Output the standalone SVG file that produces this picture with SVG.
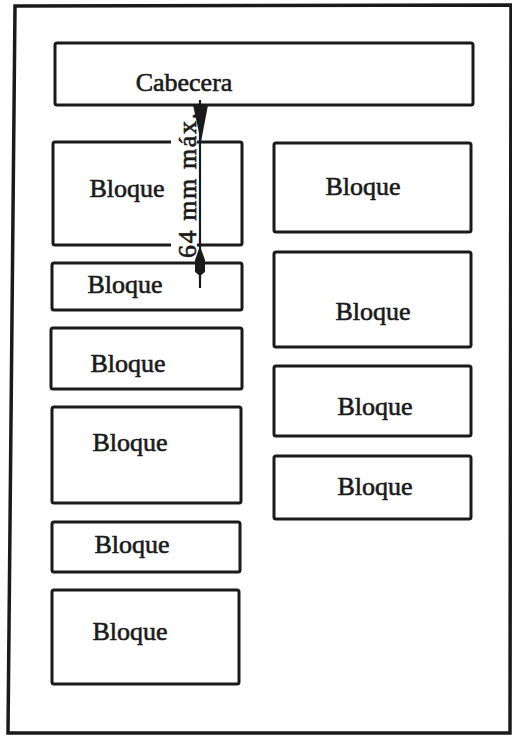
<svg xmlns="http://www.w3.org/2000/svg" width="512" height="736" viewBox="0 0 512 736">
<style>
.box{fill:#fff;stroke:#1a1a1a;stroke-width:3;stroke-linejoin:round}
.lbl{font-family:"Liberation Serif","Times New Roman",serif;font-size:26px;fill:#1a1a1a;stroke:#1a1a1a;stroke-width:0.6;text-anchor:middle}
</style>
<rect width="512" height="736" fill="#fff"/>
<path id="frame" d="M15,6 L511,5 L510,733 L8,733 Z" fill="none" stroke="#1a1a1a" stroke-width="3.5"/>
<g id="cabecera"><rect class="box" x="55" y="43" width="418" height="62" rx="2"/><text class="lbl" x="184" y="91">Cabecera</text></g>
<g id="bloque-l1"><rect class="box" x="53" y="142" width="189" height="103" rx="2"/><text class="lbl" x="127" y="197">Bloque</text></g>
<g id="bloque-l2"><rect class="box" x="52" y="263" width="190" height="47" rx="2"/><text class="lbl" x="125" y="293">Bloque</text></g>
<g id="bloque-l3"><rect class="box" x="51" y="328" width="191" height="61" rx="2"/><text class="lbl" x="128" y="372">Bloque</text></g>
<g id="bloque-l4"><rect class="box" x="52" y="407" width="189" height="96" rx="2"/><text class="lbl" x="130" y="451">Bloque</text></g>
<g id="bloque-l5"><rect class="box" x="52" y="522" width="188" height="50" rx="2"/><text class="lbl" x="132" y="553">Bloque</text></g>
<g id="bloque-l6"><rect class="box" x="52" y="590" width="187" height="94" rx="2"/><text class="lbl" x="130" y="640">Bloque</text></g>
<g id="bloque-r1"><rect class="box" x="274" y="143" width="197" height="89" rx="2"/><text class="lbl" x="363" y="195">Bloque</text></g>
<g id="bloque-r2"><rect class="box" x="274" y="252" width="197" height="95" rx="2"/><text class="lbl" x="373" y="320">Bloque</text></g>
<g id="bloque-r3"><rect class="box" x="274" y="366" width="197" height="70" rx="2"/><text class="lbl" x="375" y="415">Bloque</text></g>
<g id="bloque-r4"><rect class="box" x="274" y="456" width="197" height="63" rx="2"/><text class="lbl" x="375" y="495">Bloque</text></g>
<g id="connectors">
<rect x="171" y="110" width="26" height="150" fill="#fff"/>
<line x1="200" y1="100" x2="200" y2="288" stroke="#1a1a1a" stroke-width="2.2"/>
<polygon points="193,105 208,105 201,142" fill="#1a1a1a"/>
<polygon points="200,246 205,260 205,272 200,276 195,272 195,260" fill="#1a1a1a"/>
<text class="lbl" transform="translate(196,185.5) rotate(-90)" textLength="145" lengthAdjust="spacing">64 mm máx.</text>
</g>
</svg>
